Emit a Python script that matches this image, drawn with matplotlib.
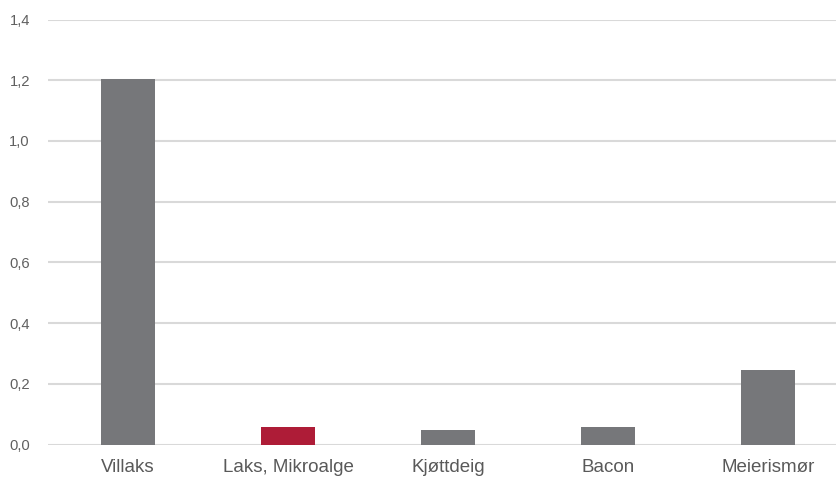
import matplotlib
matplotlib.use("Agg")
import matplotlib.pyplot as plt

categories = ["Villaks", "Laks, Mikroalge", "Kjøttdeig", "Bacon", "Meierismør"]
values = [1.205, 0.058, 0.048, 0.058, 0.246]
colors = ["#76777a", "#ae1c37", "#76777a", "#76777a", "#76777a"]
yticks = [0.0, 0.2, 0.4, 0.6, 0.8, 1.0, 1.2, 1.4]
ytick_labels = ["0,0", "0,2", "0,4", "0,6", "0,8", "1,0", "1,2", "1,4"]

plt.rcParams['font.family'] = ['Liberation Sans', 'DejaVu Sans']

fig = plt.figure(figsize=(8.36, 4.78), dpi=100)
W, H = 836, 478
left, right = 48, 836
bottom, top = 478 - 444.5, 478 - 19.5
ax = fig.add_axes([left / W, bottom / H, (right - left) / W, (top - bottom) / H])

x = list(range(len(categories)))
ax.bar(x, values, width=0.3375, color=colors, zorder=3)

ax.set_xlim(-0.5, -0.5 + (right - left) / 160)
ax.set_ylim(0, 1.4)
ax.set_yticks(yticks)
ax.set_yticklabels(ytick_labels)
ax.set_xticks(x)
ax.set_xticklabels(categories)

ax.yaxis.grid(True, color="#d9d9d9", linewidth=1.5, zorder=0)
ax.set_axisbelow(True)
for s in ax.spines.values():
    s.set_visible(False)
ax.tick_params(axis="y", length=0, pad=13, labelsize=10.6, labelcolor="#606060")
ax.tick_params(axis="x", length=0, pad=10.5, labelsize=13.5, labelcolor="#595959")

fig.savefig("out.png", dpi=100)
